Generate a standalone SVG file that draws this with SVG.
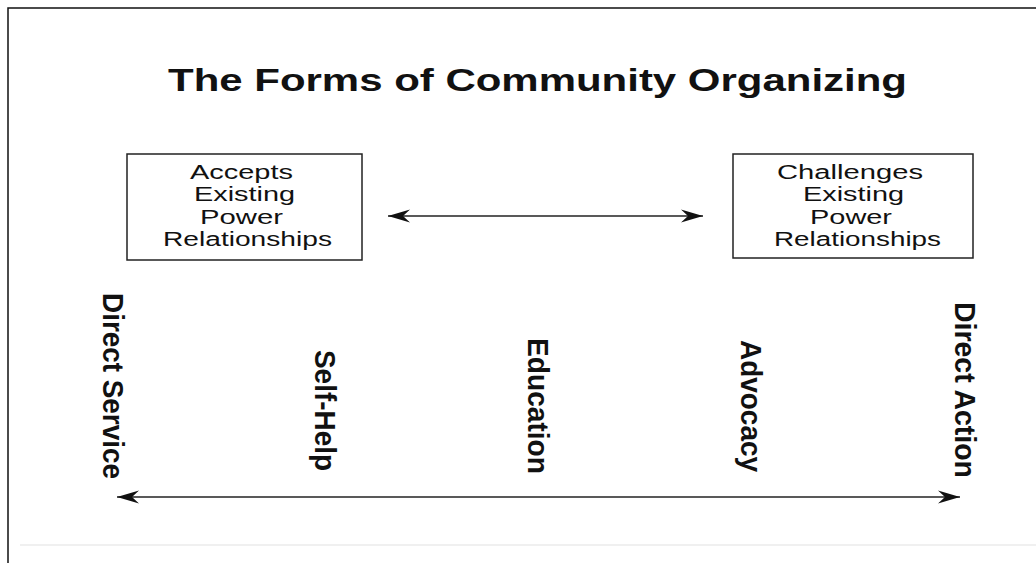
<svg xmlns="http://www.w3.org/2000/svg" width="1036" height="563" viewBox="0 0 1036 563">
  <style>
    .title { font-family: "Liberation Sans", Arial, sans-serif; font-weight: bold; font-size: 32px; fill: #111; }
    .box { fill: #fff; stroke: #222; stroke-width: 1.5; }
    .boxtext { font-family: "Liberation Sans", Arial, sans-serif; font-size: 20px; fill: #111; }
    .vlabel { font-family: "Liberation Sans", Arial, sans-serif; font-weight: bold; font-size: 30px; fill: #111; }
    .conn { stroke: #222; stroke-width: 1.6; fill: none; marker-start: url(#arrow); marker-end: url(#arrow); }
    .frame { stroke: #111; stroke-width: 1.5; fill: none; }
  </style>
  <defs>
    <marker id="arrow" viewBox="0 -7 22 14" refX="22" refY="0" markerWidth="22" markerHeight="14" markerUnits="userSpaceOnUse" orient="auto-start-reverse">
      <path d="M0,-6.5 L22,0 L0,6.5 L7,0 z" fill="#111"/>
    </marker>
  </defs>
  <rect x="0" y="0" width="1036" height="563" fill="#fff"/>
  <path class="frame" d="M8,563 L8,8 L1036,8"/>
  <line x1="20" y1="545" x2="1036" y2="545" stroke="#f0f0f0" stroke-width="2"/>

  <g id="title">
    <text class="title" x="168" y="91" textLength="739" lengthAdjust="spacingAndGlyphs">The Forms of Community Organizing</text>
  </g>

  <g id="accepts">
    <rect class="box" x="127" y="154" width="235" height="106"/>
    <text class="boxtext" x="190" y="178.5" textLength="103" lengthAdjust="spacingAndGlyphs">Accepts</text>
    <text class="boxtext" x="194" y="201" textLength="101" lengthAdjust="spacingAndGlyphs">Existing</text>
    <text class="boxtext" x="200" y="224" textLength="83" lengthAdjust="spacingAndGlyphs">Power</text>
    <text class="boxtext" x="163" y="246" textLength="169" lengthAdjust="spacingAndGlyphs">Relationships</text>
  </g>

  <g id="challenges">
    <rect class="box" x="733" y="154" width="240" height="104"/>
    <text class="boxtext" x="777" y="178.5" textLength="146" lengthAdjust="spacingAndGlyphs">Challenges</text>
    <text class="boxtext" x="803" y="201" textLength="101" lengthAdjust="spacingAndGlyphs">Existing</text>
    <text class="boxtext" x="810" y="224" textLength="82" lengthAdjust="spacingAndGlyphs">Power</text>
    <text class="boxtext" x="774" y="246" textLength="167" lengthAdjust="spacingAndGlyphs">Relationships</text>
  </g>

  <g id="direct-service">
    <text class="vlabel" transform="translate(103,293) rotate(90)" textLength="186" lengthAdjust="spacingAndGlyphs">Direct Service</text>
  </g>
  <g id="self-help">
    <text class="vlabel" transform="translate(315,350) rotate(90)" textLength="121" lengthAdjust="spacingAndGlyphs">Self-Help</text>
  </g>
  <g id="education">
    <text class="vlabel" transform="translate(528,338) rotate(90)" textLength="136" lengthAdjust="spacingAndGlyphs">Education</text>
  </g>
  <g id="advocacy">
    <text class="vlabel" transform="translate(741,340) rotate(90)" textLength="132" lengthAdjust="spacingAndGlyphs">Advocacy</text>
  </g>
  <g id="direct-action">
    <text class="vlabel" transform="translate(955,302) rotate(90)" textLength="176" lengthAdjust="spacingAndGlyphs">Direct Action</text>
  </g>

  <g id="connectors">
    <line class="conn" x1="388" y1="216" x2="703" y2="216"/>
    <line class="conn" x1="117" y1="497" x2="960" y2="497"/>
  </g>
</svg>
